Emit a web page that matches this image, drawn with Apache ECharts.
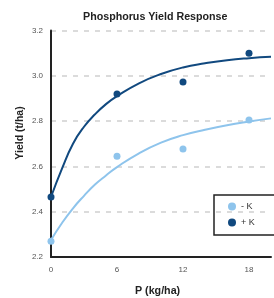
<!DOCTYPE html>
<html>
<head>
<meta charset="utf-8">
<script src="https://cdn.jsdelivr.net/npm/echarts@6/dist/echarts.min.js"></script>
<style>
  html, body { margin: 0; padding: 0; background: #fff; }
  #chart { width: 274px; height: 298px; }
</style>
</head>
<body>
<div id="chart"></div>
<script>
// observed yields (t/ha) at each P rate
const pRates = [0, 6, 12, 18];
const yieldMinusK = [2.27, 2.645, 2.677, 2.805];
const yieldPlusK = [2.465, 2.92, 2.973, 3.10];

// fitted response curves
const curveP = [0, 1, 2, 3, 4, 5, 6, 8, 10, 12, 14, 16, 18, 20];
const curveMinusK = [2.275, 2.35, 2.415, 2.47, 2.52, 2.56, 2.597, 2.658, 2.705, 2.738, 2.762, 2.782, 2.798, 2.812];
const curvePlusK = [2.465, 2.59, 2.70, 2.775, 2.83, 2.875, 2.91, 2.967, 3.008, 3.037, 3.055, 3.069, 3.078, 3.084];

const xTicks = [0, 6, 12, 18];

const lightBlue = "#8ec4ec";
const darkBlue = "#11497f";

const chart = echarts.init(document.getElementById("chart"));

const zip = (xs, ys) => xs.map((x, i) => [x, ys[i]]);

const option = {
  animation: false,
  textStyle: { fontFamily: "Liberation Sans, Arial, sans-serif" },
  title: [
    {
      text: "Phosphorus Yield Response",
      left: 78,
      top: 7,
      textStyle: { fontSize: 10.7, fontWeight: "bold", color: "#222" },
    },
    {
      text: "P (kg/ha)",
      left: 130,
      top: 281,
      textStyle: { fontSize: 10.7, fontWeight: "bold", color: "#222" },
    },
  ],
  graphic: [
    {
      type: "text",
      x: 20,
      y: 133,
      rotation: Math.PI / 2,
      style: {
        text: "Yield (t/ha)",
        align: "center",
        verticalAlign: "middle",
        fontSize: 10.5,
        fontWeight: "bold",
        fill: "#222",
        fontFamily: "Liberation Sans, Arial, sans-serif",
      },
    },
  ],
  legend: {
    orient: "vertical",
    left: 214,
    top: 195,
    padding: [7, 60, 8, 14],
    itemGap: 7,
    itemWidth: 8,
    itemHeight: 8,
    borderColor: "#222",
    borderWidth: 1.5,
    borderRadius: 0,
    textStyle: { fontSize: 9, color: "#333" },
    data: [
      { name: "- K", icon: "circle" },
      { name: "+ K", icon: "circle" },
    ],
  },
  grid: { left: 51, right: -7, top: 30.5, bottom: 41 },
  xAxis: {
    type: "value",
    min: 0,
    max: 20,
    interval: 6,
    axisLine: { lineStyle: { color: "#222", width: 2 } },
    axisTick: { show: false },
    splitLine: { show: false },
    axisLabel: {
      fontSize: 8,
      color: "#555",
      margin: 9,
      formatter: (v) => (xTicks.includes(v) ? String(v) : ""),
    },
  },
  yAxis: {
    type: "value",
    min: 2.2,
    max: 3.2,
    interval: 0.2,
    axisLine: { show: true, lineStyle: { color: "#222", width: 2 } },
    axisTick: { show: false },
    axisLabel: {
      fontSize: 8,
      color: "#555",
      margin: 8,
      formatter: (v) => v.toFixed(1),
    },
    splitLine: {
      lineStyle: { color: "#d0d0d0", width: 1.5, type: [5, 6] },
    },
  },
  series: [
    {
      name: "- K",
      type: "line",
      data: zip(curveP, curveMinusK),
      smooth: true,
      showSymbol: false,
      lineStyle: { color: lightBlue, width: 2 },
      itemStyle: { color: lightBlue },
      z: 2,
    },
    {
      name: "+ K",
      type: "line",
      data: zip(curveP, curvePlusK),
      smooth: true,
      showSymbol: false,
      lineStyle: { color: darkBlue, width: 2 },
      itemStyle: { color: darkBlue },
      z: 2,
    },
    {
      name: "- K",
      type: "scatter",
      data: zip(pRates, yieldMinusK),
      symbolSize: 7,
      itemStyle: { color: lightBlue, opacity: 1 },
      z: 3,
    },
    {
      name: "+ K",
      type: "scatter",
      data: zip(pRates, yieldPlusK),
      symbolSize: 7,
      itemStyle: { color: darkBlue, opacity: 1 },
      z: 3,
    },
  ],
};

chart.setOption(option);
</script>
</body>
</html>
